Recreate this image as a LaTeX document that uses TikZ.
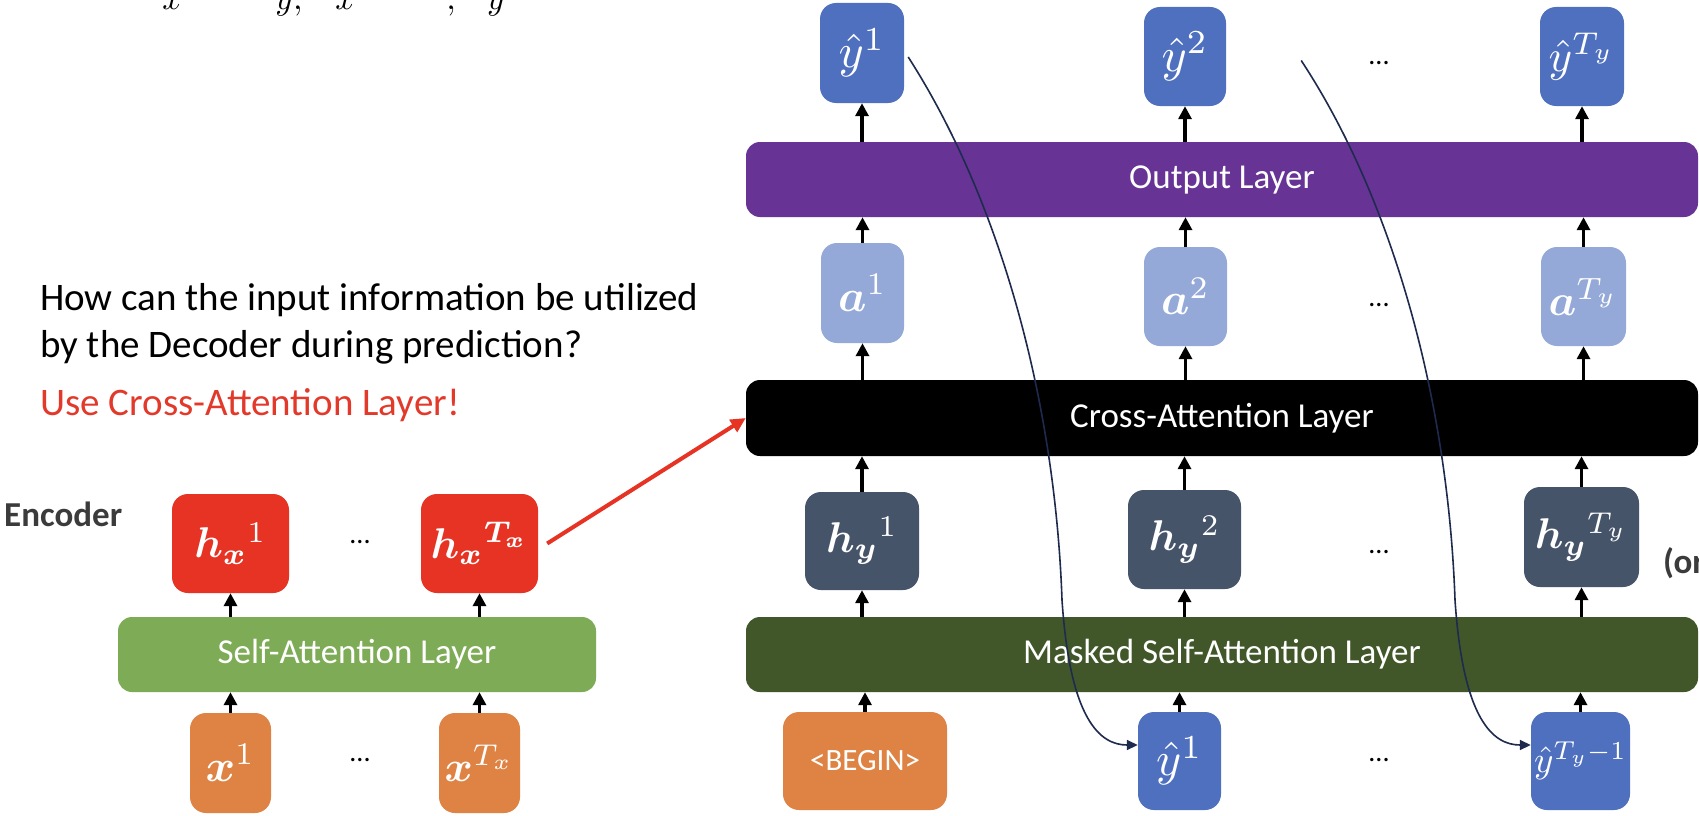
\documentclass[tikz,border=0pt]{standalone}
\usepackage{amsmath}
\usepackage{bm}
\usepackage{graphicx}
\usepackage[no-math]{fontspec}
\setmainfont{Carlito}
\usetikzlibrary{arrows.meta,calc}
\definecolor{cred}{HTML}{E63323}
\definecolor{cgreen}{HTML}{7EAB55}
\definecolor{corange}{HTML}{DE8344}
\definecolor{cblue}{HTML}{4E70BE}
\definecolor{clblue}{HTML}{94A9D8}
\definecolor{cslate}{HTML}{46546A}
\definecolor{cpurple}{HTML}{673496}
\definecolor{cdgreen}{HTML}{41572A}
\definecolor{ctext}{HTML}{3B3B3B}
\definecolor{cqred}{HTML}{E2392B}
\definecolor{cnavy}{HTML}{1E2B4E}
\newcommand{\mth}[2][4.3]{\scalebox{#1}{$#2$}}
\tikzset{
  box/.style={rounded corners=16pt, inner sep=0pt, text=white, font=\normalsize},
  layer/.style={rounded corners=14pt, inner sep=0pt, minimum width=952pt, minimum height=75pt, text=white, font=\fontsize{35}{42}\selectfont},
  arr/.style={line width=3.5pt, -{Triangle[length=13pt,width=13pt]}},
  feed/.style={cnavy, line width=1.6pt, -{Triangle[length=11pt,width=10pt]}},
  dots/.style={inner sep=0pt, font=\fontsize{28}{32}\selectfont},
  qtext/.style={anchor=base west, inner sep=0pt, font=\fontsize{39}{47}\selectfont},
  label/.style={inner sep=0pt, text=ctext, font=\fontsize{35}{42}\selectfont\bfseries},
  cut/.style={anchor=base, inner sep=0pt, font=\normalsize},
}
\begin{document}
\begin{tikzpicture}[x=1pt,y=-1pt]
\useasboundingbox (0,0) rectangle (1699,816);
\fill[white] (0,0) rectangle (1699,816);

% clipped text at the top
\node[cut] (t1) at (172,10) {\scalebox{3.4}{$x$}};
\node[cut] (t2) at (289,10) {\scalebox{3.4}{$y,$}};
\node[cut] (t3) at (345,10) {\scalebox{3.4}{$x$}};
\node[cut] (t4) at (451,10) {\scalebox{3.4}{$,$}};
\node[cut] (t5) at (496,10) {\scalebox{3.4}{$y$}};

% question text
\node[qtext] (q1) at (40,310) {How can the input information be utilized};
\node[qtext] (q2) at (40,357) {by the Decoder during prediction?};
\node[qtext, text=cqred] (q3) at (40,415) {Use Cross-Attention Layer!};

% encoder
\node[label, anchor=west] (enc) at (4,514) {Encoder};
\node[box, fill=cred, minimum width=117pt, minimum height=99pt] (hx1) at (230.5,543.5) {\mth{\bm{h}_{\bm{x}}{}^{1}}};
\node[box, fill=cred, minimum width=117pt, minimum height=99pt] (hxT) at (479.5,543.5) {\mth{\bm{h}_{\bm{x}}{}^{\bm{T}_{\bm{x}}}}};
\node[dots] (ed1) at (360,542) {...};
\node[layer, fill=cgreen, minimum width=478pt] (sa) at (357,654.5) {Self-Attention Layer};
\node[box, fill=corange, minimum width=81pt, minimum height=100pt] (x1) at (230.5,763) {\mth[4.5]{\bm{x}^{1}}};
\node[box, fill=corange, minimum width=81pt, minimum height=100pt] (xT) at (479.5,763) {\mth[4.3]{\bm{x}^{T_x}}};
\node[dots] (ed2) at (360,760) {...};

\draw[arr] (x1.north) -- (x1.north |- sa.south);
\draw[arr] (xT.north) -- (xT.north |- sa.south);
\draw[arr] (hx1.south |- sa.north) -- (hx1.south);
\draw[arr] (hxT.south |- sa.north) -- (hxT.south);

% decoder
\node[box, fill=cblue, minimum width=84pt, minimum height=100pt] (yt1) at (862,53) {\mth[4.8]{\hat{y}^{1}}};
\node[box, fill=cblue, minimum width=82pt, minimum height=99pt] (yt2) at (1185,56.5) {\mth[4.8]{\hat{y}^{2}}};
\node[box, fill=cblue, minimum width=84pt, minimum height=99pt] (ytT) at (1582,56.5) {\mth[4.5]{\hat{y}^{T_y}}};
\node[dots] (dd1) at (1379,63) {...};
\node[layer, fill=cpurple] (out) at (1222,179.5) {Output Layer};
\node[box, fill=clblue, minimum width=83pt, minimum height=100pt] (a1) at (862.5,293) {\mth[4.5]{\bm{a}^{1}}};
\node[box, fill=clblue, minimum width=83pt, minimum height=99pt] (a2) at (1185.5,296.5) {\mth[4.5]{\bm{a}^{2}}};
\node[box, fill=clblue, minimum width=85pt, minimum height=99pt] (aT) at (1583.5,296.5) {\mth[4.4]{\bm{a}^{T_y}}};
\node[dots] (dd2) at (1379,305) {...};
\node[layer, fill=black, minimum height=76pt] (ca) at (1222,418) {Cross-Attention Layer};
\node[box, fill=cslate, minimum width=114pt, minimum height=98pt] (hy1) at (862,541) {\mth{\bm{h}_{\bm{y}}{}^{1}}};
\node[box, fill=cslate, minimum width=113pt, minimum height=99pt] (hy2) at (1184.5,539.5) {\mth{\bm{h}_{\bm{y}}{}^{2}}};
\node[box, fill=cslate, minimum width=115pt, minimum height=100pt] (hyT) at (1581.5,537) {\mth{\bm{h}_{\bm{y}}{}^{T_y}}};
\node[dots] (dd3) at (1379,552) {...};
\node[label, anchor=west] (orl) at (1663,563) {(or};
\node[layer, fill=cdgreen] (msa) at (1222,654.5) {Masked Self-Attention Layer};
\node[box, fill=corange, minimum width=164pt, minimum height=98pt, font=\fontsize{31}{37}\selectfont] (beg) at (865,761) {<BEGIN>};
\node[box, fill=cblue, minimum width=83pt, minimum height=98pt] (yb1) at (1179.5,761) {\mth[4.8]{\hat{y}^{1}}};
\node[box, fill=cblue, minimum width=99pt, minimum height=98pt] (ybT) at (1580.5,761) {\mth[3.7]{\hat{y}^{T_y-1}}};
\node[dots] (dd4) at (1379,760) {...};

% vertical arrows
\foreach \b/\h/\a/\t in {beg/hy1/a1/yt1, yb1/hy2/a2/yt2, ybT/hyT/aT/ytT}{
  \draw[arr] (\b.north) -- (\b.north |- msa.south);
  \draw[arr] (\h.south |- msa.north) -- (\h.south);
  \draw[arr] (\h.north) -- (\h.north |- ca.south);
  \draw[arr] (\a.south |- ca.north) -- (\a.south);
  \draw[arr] (\a.north) -- (\a.north |- out.south);
  \draw[arr] (\t.south |- out.north) -- (\t.south);
}

% encoder to cross-attention
\draw[cred, line width=4pt, -{Triangle[length=15pt,width=14pt]}] ([xshift=9pt]hxT.east) -- (ca.west);

% feedback curves
\draw[feed] ([xshift=4pt,yshift=-4pt]yt1.east) .. controls (1000,200) and (1055,400) .. (1062,600)
  .. controls (1070,720) and (1100,745) .. ([yshift=16pt]yb1.west);
\draw[feed] ([xshift=75pt,yshift=-4pt]yt2.east) .. controls (1393,200) and (1448,400) .. (1455,600)
  .. controls (1463,720) and (1493,745) .. ([yshift=16pt]ybT.west);
\end{tikzpicture}
\end{document}
